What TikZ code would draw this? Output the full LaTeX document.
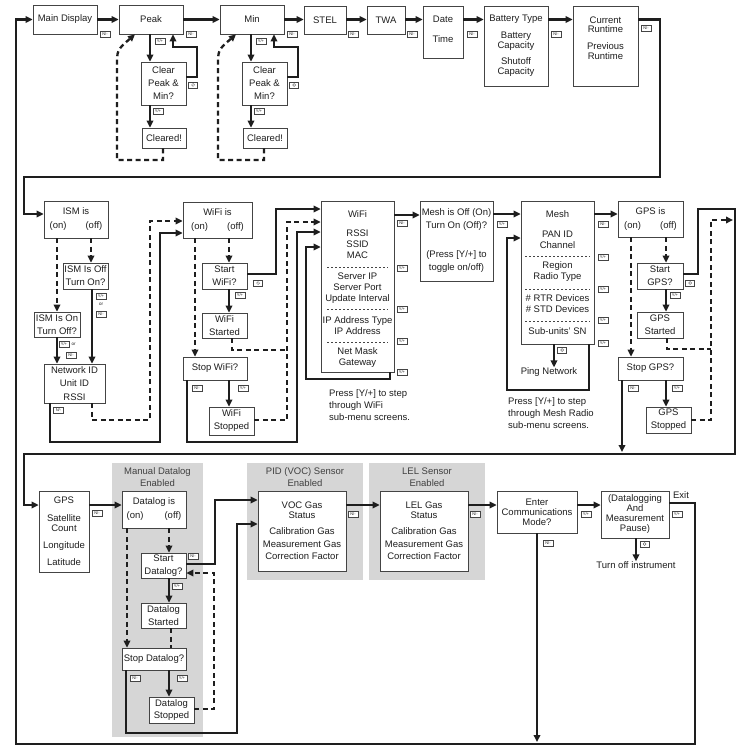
\documentclass[tikz,border=0pt]{standalone}
\usepackage{fontspec}
\setmainfont{Liberation Sans}
\usetikzlibrary{arrows.meta}
\definecolor{boxgray}{HTML}{444444}
\definecolor{panelgray}{HTML}{D6D6D6}
\definecolor{inkdark}{HTML}{1E1E1E}

\tikzset{
  rect/.style n args={4}{minimum width={(#3)-(#1)}, minimum height={(#4)-(#2)},
              at={({((#1)+(#3))/2},{((#2)+(#4))/2})}},
  box/.style={draw=boxgray, line width=0.7pt, fill=white, inner sep=0pt, align=center,
              text=inkdark, font=\fontsize{9.5}{11}\selectfont},
  panel/.style={fill=panelgray, draw=none, inner sep=0pt},
  flow/.style={draw=inkdark, line width=2.3pt, -{Triangle[length=7pt,width=6.5pt]}},
  dflow/.style={flow, dash pattern=on 5pt off 3.5pt},
  dline/.style={draw=inkdark, line width=2.3pt, dash pattern=on 5pt off 3.5pt},
  key/.style={draw=boxgray, line width=0.4pt, fill=white, inner sep=0pt, text=inkdark,
              minimum width=10pt, minimum height=6pt, font=\fontsize{4}{4}\selectfont},
  pwr/.style={key, minimum width=9pt,
              path picture={\draw[line width=0.35pt] (path picture bounding box.center) circle (1.5pt);}},
  txt/.style={align=center, text=inkdark, inner sep=0pt, font=\fontsize{9.5}{11}\selectfont},
  note/.style={align=left, text=inkdark, inner sep=0pt, font=\fontsize{9.5}{12}\selectfont},
  ortxt/.style={txt, font=\fontsize{4.5}{4.5}\selectfont},
  sepline/.style={draw=boxgray, line width=0.5pt, dash pattern=on 2pt off 2pt},
}

\begin{document}
\begin{tikzpicture}[x=1pt, y=-1pt]
  \fill[white] (0,0) rectangle (749,749);
  \useasboundingbox (0,0) rectangle (749,749);

  % top row
  \node[box, rect={33}{5}{97}{34}] (main) {Main Display};
  \node[box, rect={119}{5}{183}{34}] (peak) {Peak};
  \node[box, rect={220}{5}{284}{34}] (min) {Min};
  \node[box, rect={304}{6}{346}{34}] (stel) {STEL};
  \node[box, rect={367}{6}{405}{34}] (twa) {TWA};
  \node[box, rect={423}{6}{463}{58}] (datetime) {};
  \node[txt] (datetxt) at (443,19) {Date};
  \node[txt] (timetxt) at (443,39) {Time};
  \node[box, rect={484}{6}{548}{86}, font=\fontsize{9.5}{10}\selectfont] (battery)
    {Battery Type\\[7pt]Battery\\Capacity\\[6pt]Shutoff\\Capacity};
  \node[box, rect={573}{6}{638}{86}] (runtime) {};
  \node[txt, font=\fontsize{9.5}{9.5}\selectfont] (runtimetxt) at (605.5,38)
    {Current\\Runtime\\[7.5pt]Previous\\Runtime};

  \node[key] (kmain) at (105,34) {N/-};
  \node[key] (kpeak) at (191,34) {N/-};
  \node[key] (kmin) at (292,34) {N/-};
  \node[key] (kstel) at (353,34) {N/-};
  \node[key] (ktwa) at (412,34) {N/-};
  \node[key] (kdate) at (472,34) {N/-};
  \node[key] (kbattery) at (556,34) {N/-};
  \node[key] (kruntime) at (646,28) {N/-};

  \draw[flow] (main) -- (peak);
  \draw[flow] (peak) -- (min);
  \draw[flow] (min.east) -- (min.east -| stel.west);
  \draw[flow] (stel.east |- min.east) -- (min.east -| twa.west);
  \draw[flow] (twa.east |- min.east) -- (min.east -| datetime.west);
  \draw[flow] (datetime.east |- min.east) -- (min.east -| battery.west);
  \draw[flow] (battery.east |- min.east) -- (min.east -| runtime.west);

  % clear peak / min
  \node[box, rect={141}{62}{186}{105}, font=\fontsize{9.5}{13}\selectfont] (clrpeak) {Clear\\Peak \&\\Min?};
  \node[box, rect={142}{128}{186}{148}] (clrdpeak) {Cleared!};
  \node[box, rect={242}{62}{287}{105}, font=\fontsize{9.5}{13}\selectfont] (clrmin) {Clear\\Peak \&\\Min?};
  \node[box, rect={243}{128}{287}{148}] (clrdmin) {Cleared!};

  \node[key] (kpeaky) at (160,41) {Y/+};
  \node[key] (kclrpeaky) at (158,111) {Y/+};
  \node[pwr] (kclrpeakp) at (193,85) {};
  \node[key] (kminy) at (261,41) {Y/+};
  \node[key] (kclrminy) at (259,111) {Y/+};
  \node[pwr] (kclrminp) at (294,85) {};

  \draw[flow] (150,0 |- peak.south) -- (150,0 |- clrpeak.north);
  \draw[flow] (150,0 |- clrpeak.south) -- (150,0 |- clrdpeak.north);
  \draw[flow] (clrpeak.east |- 0,77) -| (197,47) -| (173,0 |- peak.south);
  \draw[dflow] (163,0 |- clrdpeak.south) |- (117,160) -- (117,66)
    .. controls (117,50) .. (135,0 |- peak.south);
  \draw[flow] (251,0 |- min.south) -- (251,0 |- clrmin.north);
  \draw[flow] (251,0 |- clrmin.south) -- (251,0 |- clrdmin.north);
  \draw[flow] (clrmin.east |- 0,77) -| (298,47) -| (274,0 |- min.south);
  \draw[dflow] (264,0 |- clrdmin.south) |- (218,160) -- (218,66)
    .. controls (218,50) .. (236,0 |- min.south);

  % ISM
  \node[box, rect={44}{201}{108}{238}, font=\fontsize{9.5}{14}\selectfont] (ism) {ISM is\\(on)\hspace{19pt}(off)};
  \node[box, rect={63}{263}{108}{289}, font=\fontsize{9.5}{13}\selectfont] (ismoff) {ISM Is Off\\Turn On?};
  \node[box, rect={34}{312}{80}{337}, font=\fontsize{9.5}{13}\selectfont] (ismon) {ISM Is On\\Turn Off?};
  \node[box, rect={44}{364}{105}{403}, font=\fontsize{9.5}{13.5}\selectfont] (netid) {Network ID\\Unit ID\\RSSI};

  \node[key] (kismoffy) at (101,296) {Y/+};
  \node[ortxt] (kismoffor) at (101,304.5) {or};
  \node[key] (kismoffn) at (101,314.5) {N/-};
  \node[key] (kismony) at (64,344) {Y/+};
  \node[ortxt] (kismonor) at (73.5,344.5) {or};
  \node[key] (kismonn) at (71,355) {N/-};
  \node[key] (knetid) at (58.5,410) {N/-};

  \draw[dflow] (57,0 |- ism.south) -- (57,0 |- ismon.north);
  \draw[dflow] (91,0 |- ism.south) -- (91,0 |- ismoff.north);
  \draw[flow] (92,0 |- ismoff.south) -- (92,0 |- netid.north);
  \draw[flow] (57,0 |- ismon.south) -- (57,0 |- netid.north);

  % WiFi
  \node[box, rect={183}{202}{252}{238}, font=\fontsize{9.5}{14}\selectfont] (wifiis) {WiFi is\\(on)\hspace{19pt}(off)};
  \node[box, rect={202}{263}{247}{289}, font=\fontsize{9.5}{13}\selectfont] (startwifi) {Start\\WiFi?};
  \node[box, rect={202}{313}{247}{338}, font=\fontsize{9.5}{12.5}\selectfont] (wifistarted) {WiFi\\Started};
  \node[box, rect={183}{357}{247}{380}] (stopwifi) {Stop WiFi?};
  \node[box, rect={209}{407}{254}{435}, font=\fontsize{9.5}{13}\selectfont] (wifistopped) {WiFi\\Stopped};
  \node[box, rect={321}{201}{394}{372}] (wifi) {};
  \node[txt] (wifititle) at (357.5,214) {WiFi};
  \node[txt] (wifigrpa) at (357.5,244) {RSSI\\SSID\\MAC};
  \node[txt] (wifigrpb) at (357.5,288) {Server IP\\Server Port\\Update Interval};
  \node[txt] (wifigrpc) at (357.5,325.5) {IP Address Type\\IP Address};
  \node[txt] (wifigrpd) at (357.5,358) {Net Mask\\Gateway};
  \draw[sepline] (327,267) -- (388,267);
  \draw[sepline] (327,309) -- (388,309);
  \draw[sepline] (327,342) -- (388,342);
  \node[note, anchor=west] (wifinote) at (329,405) {Press [Y/+] to step\\through WiFi\\sub-menu screens.};

  \node[pwr] (kstartwifip) at (258,283) {};
  \node[key] (kstartwifiy) at (240,295) {Y/+};
  \node[key] (kstopwifin) at (197,388) {N/-};
  \node[key] (kstopwifiy) at (243,388) {Y/+};
  \node[key] (kwifin) at (402,223) {N/-};
  \node[key] (kwifiya) at (402,268) {Y/+};
  \node[key] (kwifiyb) at (402,309) {Y/+};
  \node[key] (kwifiyc) at (402,341) {Y/+};
  \node[key] (kwifiyd) at (402,372) {Y/+};

  \draw[flow] (50,0 |- netid.south) |- (160,442) |- (wifiis.west |- 0,233);
  \draw[dflow] (92,0 |- netid.south) |- (150,420) |- (wifiis.west |- 0,221);
  \draw[dflow] (195,0 |- wifiis.south) -- (195,0 |- stopwifi.north);
  \draw[dflow] (229,0 |- wifiis.south) -- (229,0 |- startwifi.north);
  \draw[flow] (229,0 |- startwifi.south) -- (229,0 |- wifistarted.north);
  \draw[flow] (229,0 |- stopwifi.south) -- (229,0 |- wifistopped.north);
  \draw[flow] (startwifi.east |- 0,274) -| (276,209) -- (wifi.west |- 0,209);
  \draw[dline] (232,0 |- wifistarted.south) |- (287,350);
  \draw[dflow] (wifistopped.east |- 0,420) -| (287,222) -- (wifi.west |- 0,222);
  \draw[flow] (187,0 |- stopwifi.south) |- (297,442) |- (wifi.west |- 0,232);
  \draw[flow] (390,0 |- wifi.south) |- (306,379) |- (wifi.west |- 0,247);

  % Mesh
  \node[box, rect={420}{201}{493}{281}, font=\fontsize{9.5}{13}\selectfont] (meshoff)
    {Mesh is Off (On)\\Turn On (Off)?\\[16pt](Press [Y/+] to\\toggle on/off)};
  \node[box, rect={521}{201}{594}{344}] (mesh) {};
  \node[txt] (meshtitle) at (557.5,214) {Mesh};
  \node[txt] (meshgrpa) at (557.5,239.5) {PAN ID\\Channel};
  \node[txt] (meshgrpb) at (557.5,271.5) {Region\\Radio Type};
  \node[txt] (meshgrpc) at (557.5,304) {\# RTR Devices\\\# STD Devices};
  \node[txt] (meshgrpd) at (557.5,331) {Sub-units' SN};
  \draw[sepline] (525,256) -- (590,256);
  \draw[sepline] (525,289) -- (590,289);
  \draw[sepline] (525,321) -- (590,321);
  \node[txt] (ping) at (549,372) {Ping Network};
  \node[note, anchor=west] (meshnote) at (508,413.5) {Press [Y/+] to step\\through Mesh Radio\\sub-menu screens.};

  \node[key] (kmeshoffy) at (502,224) {Y/+};
  \node[pwr] (kmeshp) at (562,350) {};
  \node[key] (kmeshn) at (603,224) {N/-};
  \node[key] (kmeshya) at (603,257) {Y/+};
  \node[key] (kmeshyb) at (603,289) {Y/+};
  \node[key] (kmeshyc) at (603,320) {Y/+};
  \node[key] (kmeshyd) at (603,343) {Y/+};

  \draw[flow] (wifi.east |- 0,215) -- (meshoff.west |- 0,215);
  \draw[flow] (meshoff.east |- 0,214) -- (mesh.west |- 0,214);
  \draw[flow] (554,0 |- mesh.south) -- (554,0 |- ping.north);
  \draw[flow] (589,0 |- mesh.south) |- (507,390) |- (mesh.west |- 0,238);

  % GPS on/off
  \node[box, rect={618}{201}{683}{237}, font=\fontsize{9.5}{14}\selectfont] (gpsis) {GPS is\\(on)\hspace{19pt}(off)};
  \node[box, rect={637}{263}{683}{289}, font=\fontsize{9.5}{13}\selectfont] (startgps) {Start\\GPS?};
  \node[box, rect={637}{312}{683}{338}, font=\fontsize{9.5}{13}\selectfont] (gpsstarted) {GPS\\Started};
  \node[box, rect={618}{357}{683}{380}] (stopgps) {Stop GPS?};
  \node[box, rect={646}{407}{691}{433}, font=\fontsize{9.5}{13}\selectfont] (gpsstopped) {GPS\\Stopped};
  \coordinate (gpsjoin) at (733,220);
  \coordinate (gpsdrop) at (622,452);

  \node[pwr] (kstartgpsp) at (690,283) {};
  \node[key] (kstartgpsy) at (675,295) {Y/+};
  \node[key] (kstopgpsn) at (633,388) {N/-};
  \node[key] (kstopgpsy) at (677,388) {Y/+};

  \draw[flow] (mesh.east |- 0,214) -- (gpsis.west |- 0,214);
  \draw[dflow] (631,0 |- gpsis.south) -- (631,0 |- stopgps.north);
  \draw[dflow] (666,0 |- gpsis.south) -- (666,0 |- startgps.north);
  \draw[flow] (666,0 |- startgps.south) -- (666,0 |- gpsstarted.north);
  \draw[flow] (666,0 |- stopgps.south) -- (666,0 |- gpsstopped.north);
  \draw[dline] (667,0 |- gpsstarted.south) |- (711,349);
  \draw[dflow] (gpsstopped.east |- 0,420) -| (711,220) -- (gpsjoin);
  \draw[flow] (622,0 |- stopgps.south) -- (gpsdrop);

  % bottom row
  \node[panel, rect={112}{463}{203}{737}] (dlpanel) {};
  \node[panel, rect={247}{463}{363}{580}] (vocpanel) {};
  \node[panel, rect={369}{463}{485}{580}] (lelpanel) {};
  \node[txt, text=black!75, font=\fontsize{9.5}{12}\selectfont] (dltitle) at (157.5,477) {Manual Datalog\\Enabled};
  \node[txt, text=black!75, font=\fontsize{9.5}{12}\selectfont] (voctitle) at (305,477) {PID (VOC) Sensor\\Enabled};
  \node[txt, text=black!75, font=\fontsize{9.5}{12}\selectfont] (leltitle) at (427,477) {LEL Sensor\\Enabled};

  \node[box, rect={39}{491}{89}{572}, font=\fontsize{9.5}{10}\selectfont] (gps)
    {GPS\\[8pt]Satellite\\Count\\[7pt]Longitude\\[7pt]Latitude};
  \node[box, rect={122}{491}{186}{528}, font=\fontsize{9.5}{14}\selectfont] (dlis) {Datalog is\\(on)\hspace{21pt}(off)};
  \node[box, rect={141}{553}{186}{578}, font=\fontsize{9.5}{12.5}\selectfont] (startdl) {Start\\Datalog?};
  \node[box, rect={141}{603}{186}{628}, font=\fontsize{9.5}{12.5}\selectfont] (dlstarted) {Datalog\\Started};
  \node[box, rect={122}{648}{186}{670}] (stopdl) {Stop Datalog?};
  \node[box, rect={149}{697}{194}{723}, font=\fontsize{9.5}{12.5}\selectfont] (dlstopped) {Datalog\\Stopped};
  \node[box, rect={258}{491}{346}{571}, font=\fontsize{9.5}{12}\selectfont] (voc)
    {VOC Gas\\[-2pt]Status\\[4pt]Calibration Gas\\[1pt]Measurement Gas\\Correction Factor};
  \node[box, rect={380}{491}{468}{571}, font=\fontsize{9.5}{12}\selectfont] (lel)
    {LEL Gas\\[-2pt]Status\\[4pt]Calibration Gas\\[1pt]Measurement Gas\\Correction Factor};
  \node[box, rect={497}{491}{577}{533}, font=\fontsize{9.5}{10}\selectfont] (comm) {Enter\\Communications\\Mode?};
  \node[box, rect={601}{491}{669}{538}, font=\fontsize{9.5}{10}\selectfont] (pause)
    {(Datalogging\\And\\Measurement\\Pause)};
  \node[txt] (exit) at (681,495) {Exit};
  \node[txt] (turnoff) at (636,565) {Turn off instrument};
  \coordinate (commdrop) at (537,742);

  \node[key] (kgpsn) at (97,513) {N/-};
  \node[key] (kstartdln) at (193,556) {N/-};
  \node[key] (kstartdly) at (177,586) {Y/+};
  \node[key] (kstopdln) at (135,678) {N/-};
  \node[key] (kstopdly) at (182,678) {Y/+};
  \node[key] (kvocn) at (353,514) {N/-};
  \node[key] (keln) at (475,514) {N/-};
  \node[key] (kcommy) at (586,514) {Y/+};
  \node[key] (kcommn) at (548,543) {N/-};
  \node[key] (kpausey) at (677,514) {Y/+};
  \node[pwr] (kpausep) at (644.5,544) {};

  \draw[flow] (gps.east |- 0,505) -- (dlis.west |- 0,505);
  \draw[dflow] (127,0 |- dlis.south) -- (127,0 |- stopdl.north);
  \draw[dflow] (169,0 |- dlis.south) -- (169,0 |- startdl.north);
  \draw[flow] (169,0 |- startdl.south) -- (169,0 |- dlstarted.north);
  \draw[dline] (171,0 |- dlstarted.south) -- (171,0 |- stopdl.north);
  \draw[flow] (169,0 |- stopdl.south) -- (169,0 |- dlstopped.north);
  \draw[flow] (startdl.east |- 0,564) -| (215,500) -- (voc.west |- 0,500);
  \draw[dflow] (dlstopped.east |- 0,709) -| (214,573) -- (startdl.east |- 0,573);
  \draw[flow] (126,0 |- stopdl.south) |- (237,733) |- (voc.west |- 0,524);
  \draw[flow] (voc.east |- 0,505) -- (lel.west |- 0,505);
  \draw[flow] (lel.east |- 0,505) -- (comm.west |- 0,505);
  \draw[flow] (comm.east |- 0,505) -- (pause.west |- 0,505);
  \draw[flow] (537,0 |- comm.south) -- (commdrop);
  \draw[flow] (636,0 |- pause.south) -- (636,0 |- turnoff.north);

  % long wrap-around lines
  \draw[flow] (runtime.east |- min.east) -| (660,177) -| (24,214) -- (ism.west |- 0,214);
  \draw[flow] (startgps.east |- 0,274) -| (698,209) -| (735,454) -| (24,505) -- (gps.west |- 0,505);
  \draw[flow] (pause.east |- 0,503) -| (695,744) -| (16,0 |- main.west) -- (main.west);
\end{tikzpicture}
\end{document}
